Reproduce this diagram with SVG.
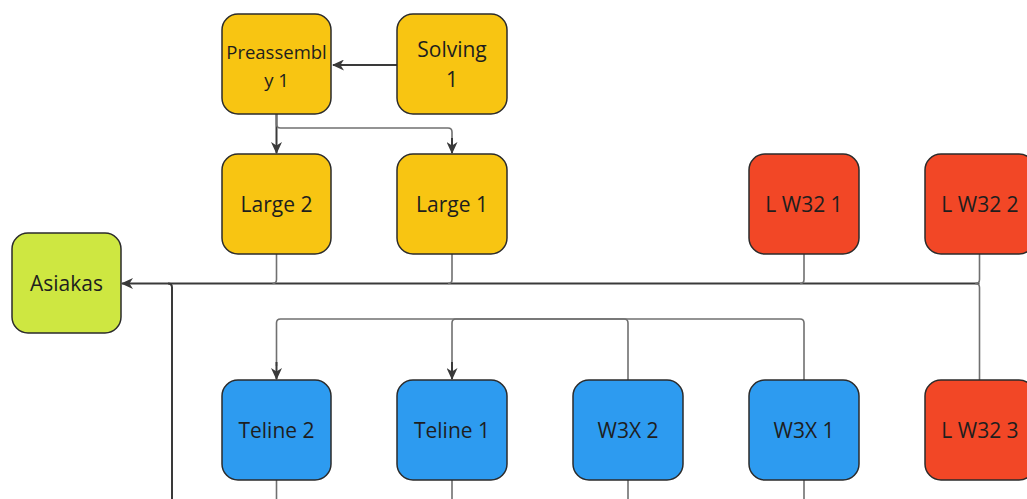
<svg xmlns="http://www.w3.org/2000/svg" width="1027" height="499" viewBox="0 0 1027 499">
<defs>
<marker id="arr" viewBox="0 0 12 11" refX="11" refY="5.5" markerWidth="12" markerHeight="11" markerUnits="userSpaceOnUse" orient="auto">
<path d="M0,0 L12,5.5 L0,11 L3.5,5.5 Z" fill="#3a3a3a"/>
</marker>
<style>
.n rect{stroke:#2b2b2b;stroke-width:1.5}
.y rect{fill:#F8C512}
.g rect{fill:#CEE741}
.r rect{fill:#F24726}
.b rect{fill:#2D9BF0}
text{font-family:"Open Sans","Noto Sans","Liberation Sans",sans-serif;font-size:21px;fill:#1e1e1e;text-anchor:middle}
.c path{fill:none}
.thin{stroke:#707070;stroke-width:1.6}
.bold{stroke:#3a3a3a;stroke-width:2}
</style>
</defs>
<rect width="1027" height="499" fill="#ffffff"/>
<g class="c" id="connectors">
<path class="bold" d="M397,65 H333" marker-end="url(#arr)"/>
<path class="bold" d="M276.5,114 V153" marker-end="url(#arr)"/>
<path class="thin" d="M276.5,114 V124 Q276.5,128 280.5,128 H448 Q452,128 452,132 V141"/>
<path class="bold" d="M452,138 V153" marker-end="url(#arr)"/>
<path class="bold" d="M979.5,283.5 H122" marker-end="url(#arr)"/>
<path class="thin" d="M979.5,254 V279.5 Q979.5,283.5 975.5,283.5"/>
<path class="thin" d="M979.5,380 V287.5 Q979.5,283.5 975.5,283.5"/>
<path class="thin" d="M804,254 V279.5 Q804,283.5 800,283.5"/>
<path class="thin" d="M452,254 V279.5 Q452,283.5 448,283.5"/>
<path class="thin" d="M276.5,254 V279.5 Q276.5,283.5 272.5,283.5"/>
<path class="bold" d="M172,499 V287.5 Q172,283.5 168,283.5"/>
<path class="thin" d="M804,380 V323 Q804,319 800,319 H280.5 Q276.5,319 276.5,323 V366"/>
<path class="bold" d="M276.5,362 V379" marker-end="url(#arr)"/>
<path class="thin" d="M628,380 V323 Q628,319 624,319 H456 Q452,319 452,323 V366"/>
<path class="bold" d="M452,362 V379" marker-end="url(#arr)"/>
<path class="thin" d="M276.5,480 V499 M452,480 V499 M628,480 V499 M804,480 V499"/>
</g>
<g id="preassembly1" class="n y"><rect x="222" y="14" width="109" height="100" rx="16"/><text x="276.5" y="59" style="font-size:18.5px">Preassembl</text><text x="276.5" y="87" style="font-size:18.5px">y 1</text></g>
<g id="solving1" class="n y"><rect x="397" y="14" width="110" height="100" rx="16"/><text x="452" y="57">Solving</text><text x="452" y="87">1</text></g>
<g id="large2" class="n y"><rect x="222" y="154" width="109" height="100" rx="16"/><text x="276.5" y="211.5">Large 2</text></g>
<g id="large1" class="n y"><rect x="397" y="154" width="110" height="100" rx="16"/><text x="452" y="211.5">Large 1</text></g>
<g id="lw321" class="n r"><rect x="749" y="154" width="110" height="100" rx="16"/><text x="804" y="211.5">L W32 1</text></g>
<g id="lw322" class="n r"><rect x="925" y="154" width="110" height="100" rx="16"/><text x="980" y="211.5">L W32 2</text></g>
<g id="asiakas" class="n g"><rect x="12" y="233" width="109" height="100" rx="16"/><text x="66.5" y="291">Asiakas</text></g>
<g id="teline2" class="n b"><rect x="222" y="380" width="109" height="100" rx="16"/><text x="276.5" y="438">Teline 2</text></g>
<g id="teline1" class="n b"><rect x="397" y="380" width="110" height="100" rx="16"/><text x="452" y="438">Teline 1</text></g>
<g id="w3x2" class="n b"><rect x="573" y="380" width="110" height="100" rx="16"/><text x="628" y="438">W3X 2</text></g>
<g id="w3x1" class="n b"><rect x="749" y="380" width="110" height="100" rx="16"/><text x="804" y="438">W3X 1</text></g>
<g id="lw323" class="n r"><rect x="925" y="380" width="110" height="100" rx="16"/><text x="980" y="438">L W32 3</text></g>
</svg>
